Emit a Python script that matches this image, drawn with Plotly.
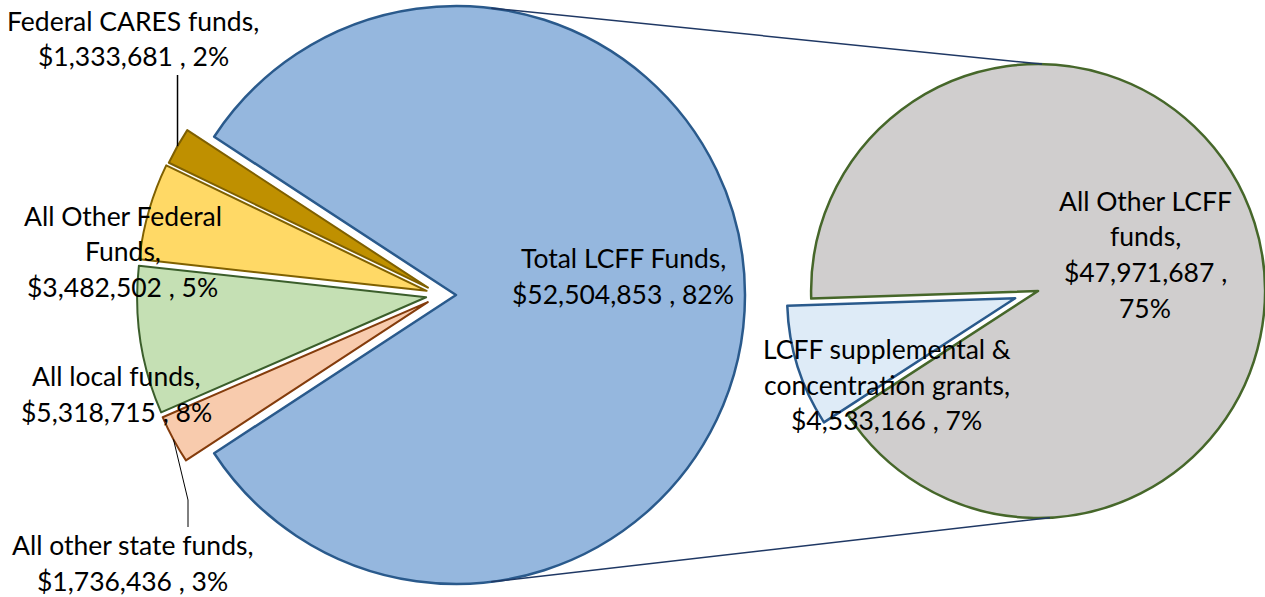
import math
import plotly.graph_objects as go

W, H = 1265, 597

# ---------------- data ----------------
main_labels = ["Total LCFF Funds", "All other state funds", "All local funds",
               "All Other Federal Funds", "Federal CARES funds"]
main_values = [52504853, 1736436, 5318715, 3482502, 1333681]
# how each name wraps in its label
main_name_lines = [["Total LCFF Funds,"], ["All other state funds,"], ["All local funds,"],
                   ["All Other Federal", "Funds,"], ["Federal CARES funds,"]]

sub_labels = ["LCFF supplemental & concentration grants", "All Other LCFF funds"]
sub_values = [4533166, 47971687]
sub_name_lines = [["LCFF supplemental &", "concentration grants,"], ["All Other LCFF", "funds,"]]
sub_value_split = [False, True]

grand_total = sum(main_values)

# ---------------- styles ----------------
main_fill = ["#95B7DE", "#F8CBAD", "#C5E0B4", "#FFD966", "#BF9000"]
main_edge = ["#2A5A8C", "#843C0C", "#3B5E2B", "#7F6000", "#7F6000"]
main_edge_w = [2.5, 2, 2, 2, 2]
sub_fill = ["#DEEBF7", "#D0CECE"]
sub_edge = ["#2A5A8C", "#46672A"]
sub_edge_w = [2.5, 2.5]
FONT = "Lato"
FS = 26.5
LINE_H = 35.5

# geometry (pixels)
L_C = (441.0, 295.0)
L_R = 289.0
L_EXP = 15.0
R_C = (1026.6, 294.6)
R_R = 228.0
R_EXP = 12.0
SUB_ROT = 237.0  # start of the small slice in the secondary pie

f_main = main_values[0] / grand_total
MAIN_ROT = 90.0 - 180.0 * f_main


def mid_angles(values, rot):
    tot = sum(values)
    out, a = [], rot
    for v in values:
        span = 360.0 * v / tot
        out.append(a + span / 2)
        a += span
    return out


def unit(angle_deg):
    a = math.radians(angle_deg)
    return math.sin(a), -math.cos(a)


def px(x):
    return x / W


def py(y):
    return 1 - y / H


def dom(cx, cy, r):
    r = min(r, cx, W - cx, cy, H - cy)
    return dict(x=[px(cx - r), px(cx + r)], y=[py(cy + r), py(cy - r)]), r


fig = go.Figure()

centers = {}
main_mids = mid_angles(main_values, MAIN_ROT)
n_main = len(main_values)
for i in range(n_main):
    ux, uy = unit(main_mids[i])
    cx, cy = L_C[0] + L_EXP * ux, L_C[1] + L_EXP * uy
    d, r = dom(cx, cy, L_R)
    centers[("m", i)] = (cx, cy, r)
    fig.add_trace(go.Pie(
        values=main_values, labels=main_labels, sort=False, direction="clockwise",
        rotation=MAIN_ROT, domain=d, textinfo="none", showlegend=False,
        hoverinfo="label+value",
        marker=dict(colors=[main_fill[j] if j == i else "rgba(0,0,0,0)" for j in range(n_main)],
                    line=dict(color=[main_edge[j] if j == i else "rgba(0,0,0,0)" for j in range(n_main)],
                              width=[main_edge_w[j] if j == i else 0 for j in range(n_main)]))))

sub_mids = mid_angles(sub_values, SUB_ROT)
n_sub = len(sub_values)
for i in [1, 0]:
    ux, uy = unit(sub_mids[i])
    cx, cy = R_C[0] + R_EXP * ux, R_C[1] + R_EXP * uy
    d, r = dom(cx, cy, R_R)
    centers[("s", i)] = (cx, cy, r)
    fig.add_trace(go.Pie(
        values=sub_values, labels=sub_labels, sort=False, direction="clockwise",
        rotation=SUB_ROT, domain=d, textinfo="none", showlegend=False,
        hoverinfo="label+value",
        marker=dict(colors=[sub_fill[j] if j == i else "rgba(0,0,0,0)" for j in range(n_sub)],
                    line=dict(color=[sub_edge[j] if j == i else "rgba(0,0,0,0)" for j in range(n_sub)],
                              width=[sub_edge_w[j] if j == i else 0 for j in range(n_sub)]))))

shapes = []
# connector lines between the pies
bcx, bcy, br = centers[("m", 0)]
gcx, gcy, gr = centers[("s", 1)]
for a_start, a_end in [(7, 1), (173, 177)]:
    sx, sy = unit(a_start)
    ex, ey = unit(a_end)
    shapes.append(dict(type="line", xref="paper", yref="paper",
                       x0=px(bcx + br * sx), y0=py(bcy + br * sy),
                       x1=px(gcx + gr * ex), y1=py(gcy + gr * ey),
                       line=dict(color="#1F3864", width=1.5)))

# leader lines
ccx, ccy, cr = centers[("m", 4)]
ux, uy = unit(main_mids[4])
shapes.append(dict(type="line", xref="paper", yref="paper",
                   x0=px(ccx + cr * ux), y0=py(ccy + cr * uy),
                   x1=px(ccx + cr * ux), y1=py(75),
                   line=dict(color="black", width=1.5)))
scx, scy, sr = centers[("m", 1)]
ux, uy = unit(main_mids[1])
p0 = (scx + sr * ux, scy + sr * uy)
shapes.append(dict(type="path", xref="paper", yref="paper",
                   path=f"M {px(p0[0])},{py(p0[1])} L {px(188)},{py(500)} L {px(188)},{py(527)}",
                   line=dict(color="black", width=1)))


def label_lines(name_lines, value, split):
    pct = round(value / grand_total * 100)
    val = f"${value:,} ,"
    if split:
        return name_lines + [val, f"{pct}%"]
    return name_lines + [f"{val} {pct}%"]


# label anchors: (center x, first line middle y)
main_anchor = [(623, 258), (132, 545), (116, 376), (123, 216), (133, 21)]
sub_anchor = [(887, 349), (1145, 201)]

annotations = []
for i, v in enumerate(main_values):
    lines = label_lines(main_name_lines[i], v, False)
    x0, y0 = main_anchor[i]
    for k, t in enumerate(lines):
        annotations.append(dict(text=t, x=px(x0), y=py(y0 + k * LINE_H), xref="paper", yref="paper",
                                showarrow=False, xanchor="center", yanchor="middle",
                                font=dict(family=FONT, size=FS, color="black")))
for i, v in enumerate(sub_values):
    lines = label_lines(sub_name_lines[i], v, sub_value_split[i])
    x0, y0 = sub_anchor[i]
    for k, t in enumerate(lines):
        annotations.append(dict(text=t, x=px(x0), y=py(y0 + k * LINE_H), xref="paper", yref="paper",
                                showarrow=False, xanchor="center", yanchor="middle",
                                font=dict(family=FONT, size=FS, color="black")))

fig.update_layout(width=W, height=H, margin=dict(l=0, r=0, t=0, b=0),
                  paper_bgcolor="white", plot_bgcolor="white",
                  shapes=shapes, annotations=annotations, showlegend=False,
                  font=dict(family=FONT))

fig.write_html("out.html", config={"displayModeBar": False},
               post_script="document.body.style.margin='0';document.body.style.overflow='hidden';")
